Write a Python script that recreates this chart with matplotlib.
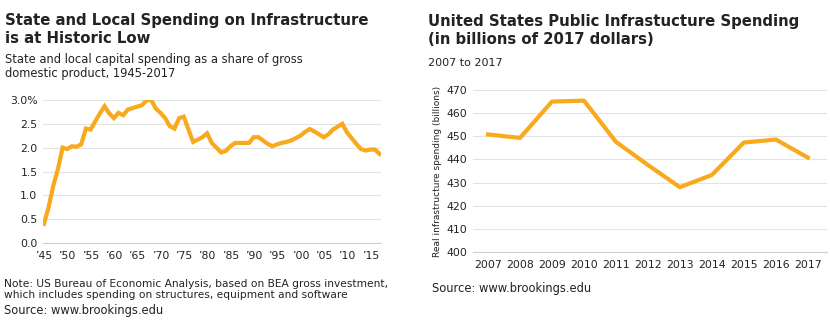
import matplotlib
matplotlib.use('Agg')
import matplotlib.pyplot as plt

plt.rcParams['font.family'] = ['DejaVu Sans']

# left chart: state and local capital spending, % of GDP
years = list(range(1945, 2018))
share = [0.40, 0.75, 1.20, 1.55, 2.00, 1.97, 2.03, 2.02, 2.07, 2.40,
         2.38, 2.55, 2.72, 2.87, 2.72, 2.62, 2.73, 2.68, 2.80, 2.83,
         2.86, 2.89, 2.99, 3.00, 2.82, 2.73, 2.62, 2.45, 2.40, 2.62,
         2.65, 2.38, 2.12, 2.17, 2.22, 2.30, 2.10, 2.00, 1.90, 1.93,
         2.03, 2.10, 2.10, 2.10, 2.10, 2.22, 2.22, 2.15, 2.08, 2.03,
         2.07, 2.10, 2.12, 2.15, 2.20, 2.25, 2.33, 2.39, 2.34, 2.28,
         2.22, 2.28, 2.38, 2.44, 2.50, 2.32, 2.20, 2.08, 1.97, 1.94,
         1.96, 1.96, 1.87]
left_xticks = list(range(1945, 2016, 5))
left_xlabels = ["\u2019" + str(y)[2:] for y in left_xticks]
left_yticks = [0.0, 0.5, 1.0, 1.5, 2.0, 2.5, 3.0]
left_ylabels = ['0.0', '0.5', '1.0', '1.5', '2.0', '2.5', '3.0%']

# right chart: real public infrastructure spending, billions of 2017 dollars
r_years = ['2007', '2008', '2009', '2010', '2011', '2012', '2013', '2014', '2015', '2016', '2017']
spending = [450.8, 449.3, 465.0, 465.4, 447.6, 437.6, 428.0, 433.3, 447.3, 448.6, 440.8]
right_yticks = list(range(400, 471, 10))

orange = '#F8A91C'
grid_c = '#E3E3E3'
text_c = '#222222'

fig = plt.figure(figsize=(8.3, 3.26), dpi=100)

ax1 = fig.add_axes([43 / 830, 1 - 243 / 326, 338 / 830, 143 / 326])
ax1.plot(years, share, color=orange, linewidth=3, solid_joinstyle='miter')
ax1.set_xlim(1944.8, 2017.3)
ax1.set_ylim(0, 3.0)
ax1.set_xticks(left_xticks)
ax1.set_xticklabels(left_xlabels)
ax1.set_yticks(left_yticks)
ax1.set_yticklabels(left_ylabels)

ax2 = fig.add_axes([473 / 830, 1 - 252 / 326, 354 / 830, 162 / 326])
ax2.plot(range(len(r_years)), spending, color=orange, linewidth=3)
ax2.set_xlim(-0.47, 10.6)
ax2.set_ylim(400, 470)
ax2.set_xticks(range(len(r_years)))
ax2.set_xticklabels(r_years)
ax2.set_yticks(right_yticks)
ax2.set_ylabel('Real infrastructure spending (billions)', fontsize=6.5, color=text_c, labelpad=3)

for ax in (ax1, ax2):
    for s in ['top', 'right', 'left']:
        ax.spines[s].set_visible(False)
    ax.spines['bottom'].set_color('#D0D0D0')
    ax.grid(axis='y', color=grid_c, linewidth=0.8)
    ax.set_axisbelow(True)
    ax.tick_params(length=0, labelsize=7.8, colors=text_c)
    ax.tick_params(axis='y', pad=4)
    ax.tick_params(axis='x', pad=6)

# titles and notes
fig.text(5 / 830, 1 - 43 / 326, 'State and Local Spending on Infrastructure\nis at Historic Low',
         fontsize=10.7, fontweight='bold', color=text_c, va='baseline', linespacing=1.25)
fig.text(5 / 830, 1 - 77 / 326, 'State and local capital spending as a share of gross\ndomestic product, 1945-2017',
         fontsize=8.3, color=text_c, va='baseline', linespacing=1.15)
fig.text(4 / 830, 1 - 298 / 326,
         'Note: US Bureau of Economic Analysis, based on BEA gross investment,\nwhich includes spending on structures, equipment and software',
         fontsize=7.7, color=text_c, va='baseline', linespacing=1.15)
fig.text(4 / 830, 1 - 314 / 326, 'Source: www.brookings.edu', fontsize=8.3, color=text_c, va='baseline')

fig.text(428 / 830, 1 - 44 / 326, 'United States Public Infrastucture Spending\n(in billions of 2017 dollars)',
         fontsize=10.7, fontweight='bold', color=text_c, va='baseline', linespacing=1.25)
fig.text(428 / 830, 1 - 66 / 326, '2007 to 2017', fontsize=8, color=text_c, va='baseline')
fig.text(432 / 830, 1 - 292 / 326, 'Source: www.brookings.edu', fontsize=8.3, color=text_c, va='baseline')

plt.savefig('out.png', dpi=100)
